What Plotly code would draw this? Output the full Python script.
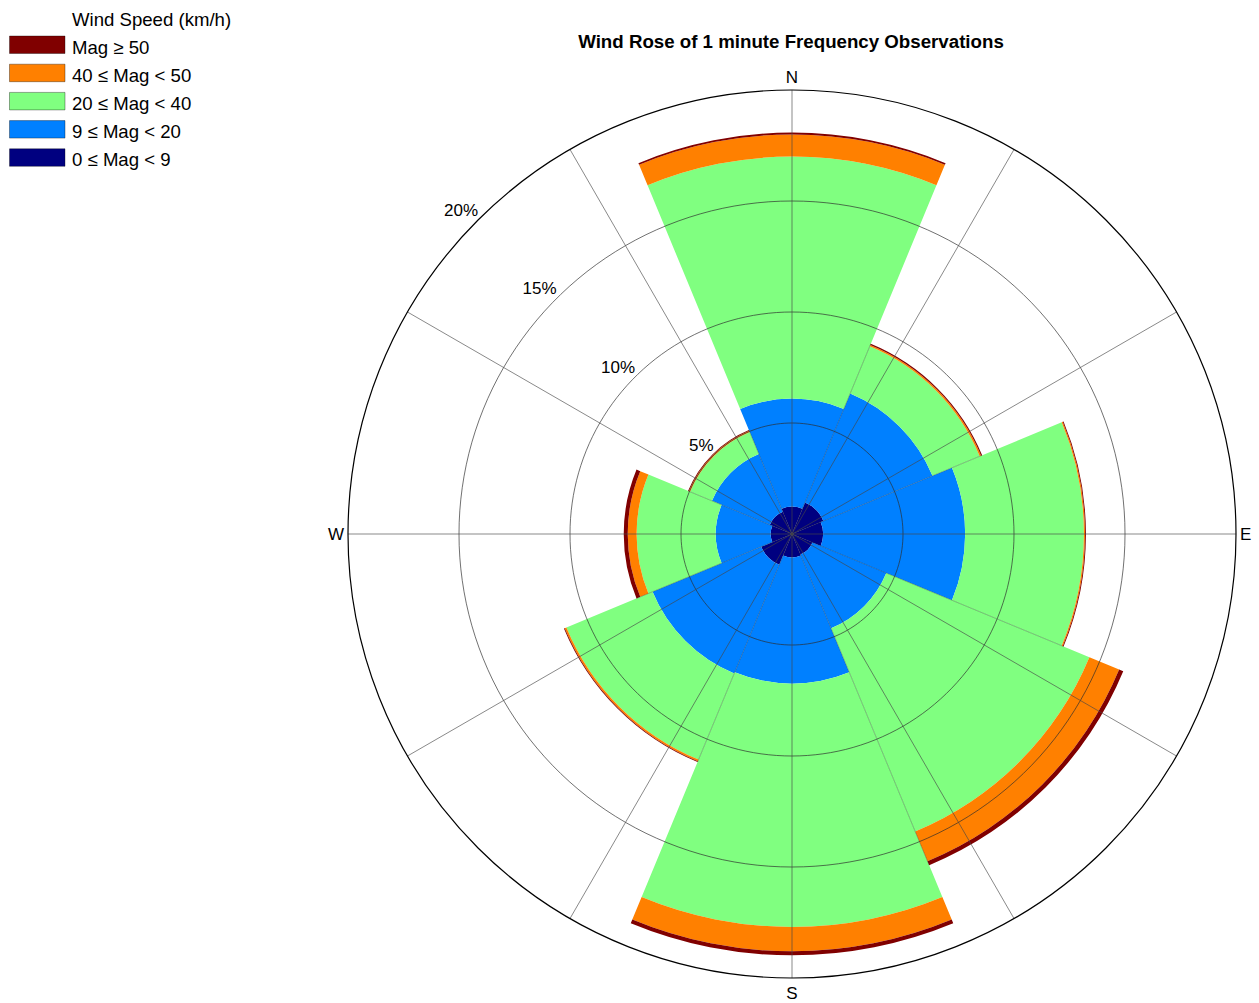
import plotly.graph_objects as go

# Direction sectors (compass bearing of each sector centre, degrees)
directions = ["N", "NE", "E", "SE", "S", "SW", "W", "NW"]
direction_deg = [0, 45, 90, 135, 180, 225, 270, 315]

# Frequency (% of observations) per direction for each wind speed class
freq_0_9 = [1.23, 1.53, 1.40, 1.00, 1.05, 1.50, 0.96, 1.08]
freq_9_20 = [4.87, 5.32, 6.40, 3.60, 5.69, 5.30, 2.47, 2.82]
freq_20_40 = [10.90, 2.30, 5.35, 9.90, 10.96, 4.20, 3.57, 1.07]
freq_40_50 = [1.00, 0.07, 0.05, 1.45, 1.10, 0.08, 0.40, 0.06]
freq_50_up = [0.08, 0.05, 0.04, 0.20, 0.18, 0.04, 0.18, 0.04]

speed_labels = ["0 \u2264 Mag < 9", "9 \u2264 Mag < 20", "20 \u2264 Mag < 40",
                "40 \u2264 Mag < 50", "Mag \u2265 50"]
speed_colors = ["#000080", "#0080FF", "#80FF80", "#FF8000", "#800000"]

radial_ticks = [5, 10, 15, 20]
radial_labels = ["5%", "10%", "15%", "20%"]

angular_ticks = list(range(0, 360, 30))
angular_labels = ["N", "", "", "E", "", "", "S", "", "", "W", "", ""]

title_text = "Wind Rose of 1 minute Frequency Observations"
legend_title = "Wind Speed (km/h)"

W, H = 1259, 1003
FONT = "Arial, Liberation Sans, Helvetica, sans-serif"
R_MAX = radial_ticks[-1]


def px_x(x):
    return x / W


def px_y(y):
    return 1 - y / H


series = [freq_0_9, freq_9_20, freq_20_40, freq_40_50, freq_50_up]

fig = go.Figure()

# stacked sectors, innermost speed class first
for vals, name, col in zip(series, speed_labels, speed_colors):
    fig.add_trace(go.Barpolar(
        r=vals, theta=direction_deg, width=[45] * len(vals),
        name=name, marker=dict(color=col, line=dict(width=0)),
        showlegend=False, hovertemplate="%{theta}: %{r:.2f}%<extra>" + name + "</extra>",
    ))

# thin seams between neighbouring sectors
totals = [sum(v) for v in zip(*series)]
n = len(direction_deg)
for i in range(n):
    edge = direction_deg[i] + 22.5
    reach = min(totals[i], totals[(i + 1) % n])
    fig.add_trace(go.Scatterpolar(
        r=[0, reach], theta=[edge, edge], mode="lines",
        line=dict(color="rgba(40,40,40,0.45)", width=0.7),
        showlegend=False, hoverinfo="skip",
    ))

# percentage rings and direction spokes, drawn over the sectors
ring_theta = list(range(0, 361, 2))
for ring in radial_ticks[:-1]:
    fig.add_trace(go.Scatterpolar(
        r=[ring] * len(ring_theta), theta=ring_theta, mode="lines",
        line=dict(color="rgba(45,45,45,0.85)", width=0.8),
        showlegend=False, hoverinfo="skip",
    ))
for a in angular_ticks:
    fig.add_trace(go.Scatterpolar(
        r=[0, R_MAX], theta=[a, a], mode="lines",
        line=dict(color="rgba(70,70,70,0.8)", width=0.8),
        showlegend=False, hoverinfo="skip",
    ))

# radial percentage labels along the north-west diagonal
fig.add_trace(go.Scatterpolar(
    r=radial_ticks, theta=[315] * len(radial_ticks),
    mode="text", text=radial_labels, textposition="top left", cliponaxis=False,
    textfont=dict(family=FONT, size=17, color="black"),
    showlegend=False, hoverinfo="skip",
))

fig.update_layout(
    width=W, height=H,
    margin=dict(l=0, r=0, t=0, b=0),
    paper_bgcolor="white",
    font=dict(family=FONT, color="black"),
    showlegend=False,
    title=dict(text=title_text, x=px_x(791), xanchor="center",
               y=px_y(41), yanchor="middle",
               font=dict(family=FONT, size=18.7, color="black", weight="bold")),
    polar=dict(
        domain=dict(x=[px_x(348), px_x(1236)], y=[px_y(978), px_y(90)]),
        bgcolor="white",
        barmode="stack",
        radialaxis=dict(
            range=[0, R_MAX], tickvals=radial_ticks, showticklabels=False,
            ticks="", showline=False, showgrid=False,
        ),
        angularaxis=dict(
            rotation=90, direction="clockwise",
            tickmode="array", tickvals=angular_ticks, ticktext=angular_labels,
            ticks="", showline=True, linecolor="black", linewidth=1.2, showgrid=False,
            tickfont=dict(family=FONT, size=17, color="black"),
        ),
    ),
)

# legend drawn as colour boxes with labels, top class first
legend_order = list(range(len(speed_labels)))[::-1]
fig.add_annotation(x=px_x(70), y=px_y(19), xref="paper", yref="paper",
                   text=legend_title, showarrow=False, xanchor="left",
                   yanchor="middle", font=dict(family=FONT, size=18.6, color="black"))
for row, k in enumerate(legend_order):
    top = 36 + row * 28.2
    fig.add_shape(type="rect", xref="paper", yref="paper",
                  x0=px_x(9.5), x1=px_x(65), y0=px_y(top + 17.5), y1=px_y(top),
                  fillcolor=speed_colors[k], line=dict(color="rgba(0,0,0,0.35)", width=1))
    fig.add_annotation(x=px_x(70), y=px_y(top + 11), xref="paper", yref="paper",
                       text=speed_labels[k], showarrow=False, xanchor="left",
                       yanchor="middle", font=dict(family=FONT, size=18.6, color="black"))

fig.write_html("out.html")
